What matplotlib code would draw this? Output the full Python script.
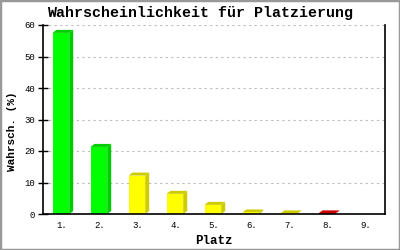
import matplotlib
matplotlib.use("Agg")
import matplotlib.pyplot as plt
from matplotlib.patches import Polygon, Rectangle

# Daten
plaetze = ["1.", "2.", "3.", "4.", "5.", "6.", "7.", "8.", "9."]
werte = [57.5, 21.3, 12.2, 6.4, 2.9, 0.5, 0.2, 0.2, 0.0]
farben = ["#00ff00", "#00ff00", "#ffff00", "#ffff00", "#ffff00",
          "#ffff00", "#ffff00", "#cc0000", "#cc0000"]
seiten = ["#00cc00", "#00cc00", "#cccc00", "#cccc00", "#cccc00",
          "#cccc00", "#cccc00", "#cc0000", "#cc0000"]
y_ticks = [0, 10, 20, 30, 40, 50, 60]

mono = "Liberation Mono"

fig = plt.figure(figsize=(4, 2.5), dpi=100)
ax = fig.add_axes([0.1075, 0.144, 0.855, 0.756])

breite = 0.44
dx = 0.105   # Tiefe (x) in Daten-Einheiten
dy = 0.95    # Tiefe (y) in Daten-Einheiten
x = list(range(1, len(plaetze) + 1))

for xi, w, fc, sc in zip(x, werte, farben, seiten):
    if w <= 0:
        continue
    l = xi - breite / 2 - 0.03
    r = l + breite
    # Seite
    ax.add_patch(Polygon([(r, 0), (r + dx, dy), (r + dx, w + dy), (r, w)],
                         closed=True, facecolor=sc, edgecolor="none", zorder=3))
    # Oberseite
    ax.add_patch(Polygon([(l, w), (l + dx, w + dy), (r + dx, w + dy), (r, w)],
                         closed=True, facecolor=sc, edgecolor="none", zorder=3))
    # Vorderseite
    ax.add_patch(Rectangle((l, 0), breite, w, facecolor=fc,
                           edgecolor="none", zorder=4))

ax.set_xlim(0.5, len(plaetze) + 0.5)
ax.set_ylim(0, 60)
ax.set_yticks(y_ticks)
ax.set_yticklabels([str(t) for t in y_ticks], family=mono, fontsize=6.5)
ax.set_xticks(x)
ax.set_xticklabels(plaetze, family=mono, fontsize=6.5)
ax.tick_params(axis="y", direction="inout", length=7, width=1, pad=2)
ax.tick_params(axis="x", length=0, pad=5)

ax.grid(axis="y", linestyle=(0, (2, 3)), color="#bbbbbb", linewidth=0.8, zorder=0)
ax.spines["top"].set_visible(False)
for s in ["left", "bottom", "right"]:
    ax.spines[s].set_linewidth(1.2)
    ax.spines[s].set_zorder(5)

# Achsentitel
fig.text(12 / 400, 1 - 131 / 250, "Wahrsch. (%)", family=mono, fontweight="bold",
         fontsize=8, rotation=90, ha="center", va="center")
ax.set_xlabel("Platz", family=mono, fontweight="bold", fontsize=9, labelpad=4)

fig.text(0.5, 0.948, "Wahrscheinlichkeit für Platzierung", family=mono,
         fontweight="bold", fontsize=10.8, ha="center", va="center")

# grauer Rahmen
fig.patches.append(Rectangle((0, 0), 1, 1, transform=fig.transFigure,
                             fill=False, edgecolor="#999999", linewidth=2.5))

fig.savefig("out.png", dpi=100)
